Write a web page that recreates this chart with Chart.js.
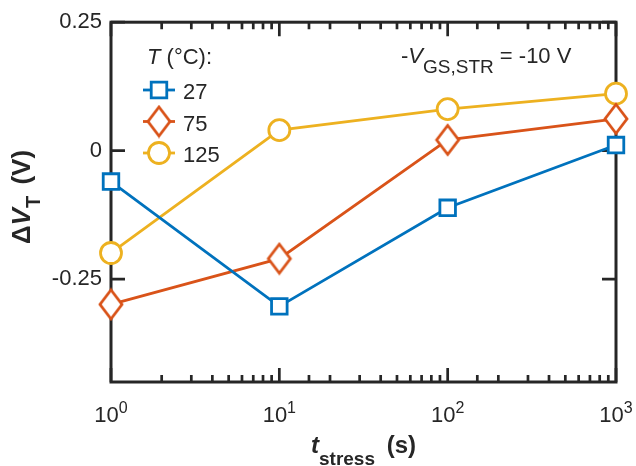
<!DOCTYPE html>
<html>
<head>
<meta charset="utf-8">
<script src="https://cdn.jsdelivr.net/npm/chart.js@4/dist/chart.umd.min.js"></script>
<style>
html, body { margin: 0; padding: 0; background: #fff; }
#wrap { width: 636px; height: 466px; }
</style>
</head>
<body>
<div id="wrap"><canvas id="chart" width="636" height="466"></canvas></div>
<script>
// Values
const stressTimes = [1, 10, 100, 1000];
const temperatures = ['27', '75', '125'];
const shift27 = [-0.060, -0.303, -0.111, 0.011];
const shift75 = [-0.299, -0.210, 0.021, 0.062];
const shift125 = [-0.199, 0.040, 0.081, 0.111];
const yTickValues = [-0.25, 0, 0.25];
const yTickLabels = ['-0.25', '0', '0.25'];
const xTickExponents = [0, 1, 2, 3];

const FONT = '"Liberation Sans", Arial, Helvetica, sans-serif';
const INK = '#262626';
const colors = ['#0072BD', '#D95319', '#EDB120'];

// MATLAB style diamond is taller than wide, so build it as an image
function makeDiamond(color) {
    const c = document.createElement('canvas');
    c.width = 28;
    c.height = 34;
    const g = c.getContext('2d');
    g.beginPath();
    g.moveTo(14, 2.5);
    g.lineTo(25, 17);
    g.lineTo(14, 31.5);
    g.lineTo(3, 17);
    g.closePath();
    g.fillStyle = '#fff';
    g.fill();
    g.lineWidth = 2.8;
    g.strokeStyle = color;
    g.stroke();
    return c;
}

const markerStyles = ['rect', makeDiamond(colors[1]), 'circle'];
const markerRadius = [11, 12, 10.5];

function isDecade(v) {
    const l = Math.log10(v);
    return Math.abs(l - Math.round(l)) < 1e-9;
}

// draw a row of text pieces (for italics, sub- and superscripts)
function drawRuns(ctx, runs, x, y, align) {
    let total = 0;
    runs.forEach(r => {
        ctx.font = r.font;
        r.w = ctx.measureText(r.text).width;
        total += r.w + (r.gap || 0);
    });
    let cx = align === 'center' ? x - total / 2 : x;
    runs.forEach(r => {
        ctx.font = r.font;
        ctx.fillText(r.text, cx, y + (r.dy || 0));
        cx += r.w + (r.gap || 0);
    });
}

const framePlugin = {
    id: 'frame',
    beforeDatasetsDraw(chart) {
        const { ctx, chartArea: a, scales: { x, y } } = chart;
        ctx.save();
        ctx.strokeStyle = INK;
        ctx.lineWidth = 3;
        ctx.strokeRect(a.left, a.top, a.right - a.left, a.bottom - a.top);

        // inward tick marks, mirrored on the opposite side
        ctx.lineWidth = 2.7;
        ctx.beginPath();
        x.ticks.forEach(t => {
            const px = x.getPixelForValue(t.value);
            const len = isDecade(t.value) ? 14 : 7;
            ctx.moveTo(px, a.bottom);
            ctx.lineTo(px, a.bottom - len);
            ctx.moveTo(px, a.top);
            ctx.lineTo(px, a.top + len);
        });
        y.ticks.forEach(t => {
            const py = y.getPixelForValue(t.value);
            ctx.moveTo(a.left, py);
            ctx.lineTo(a.left + 14, py);
            ctx.moveTo(a.right, py);
            ctx.lineTo(a.right - 14, py);
        });
        ctx.stroke();
        ctx.restore();
    },
    afterDraw(chart) {
        const { ctx, chartArea: a, scales: { x } } = chart;
        ctx.save();
        ctx.fillStyle = INK;
        ctx.textBaseline = 'alphabetic';

        // x tick labels 10^n
        xTickExponents.forEach(e => {
            const px = x.getPixelForValue(Math.pow(10, e));
            drawRuns(ctx, [
                { text: '10', font: '22px ' + FONT },
                { text: String(e), font: '16px ' + FONT, dy: -9 }
            ], px, 422, 'center');
        });

        // x axis title
        drawRuns(ctx, [
            { text: 't', font: 'italic bold 24px ' + FONT },
            { text: 'stress', font: 'bold 19px ' + FONT, dy: 12, gap: 5 },
            { text: ' (s)', font: 'bold 24px ' + FONT }
        ], (a.left + a.right) / 2, 453, 'center');

        // y axis title
        ctx.save();
        ctx.translate(30, 197);
        ctx.rotate(-Math.PI / 2);
        drawRuns(ctx, [
            { text: '\u0394', font: 'bold 26px ' + FONT },
            { text: 'V', font: 'italic bold 26px ' + FONT },
            { text: 'T', font: 'bold 20px ' + FONT, dy: 10, gap: 4 },
            { text: ' (V)', font: 'bold 26px ' + FONT }
        ], 0, 0, 'center');
        ctx.restore();

        // legend
        drawRuns(ctx, [
            { text: 'T', font: 'italic 22px ' + FONT },
            { text: ' (\u00B0C):', font: '22px ' + FONT }
        ], 147, 64, 'left');
        chart.data.datasets.forEach((ds, i) => {
            const ly = 90 + 31.5 * i;
            ctx.strokeStyle = ds.borderColor;
            ctx.lineWidth = ds.borderWidth;
            ctx.beginPath();
            ctx.moveTo(143, ly);
            ctx.lineTo(175, ly);
            ctx.stroke();
            ctx.fillStyle = '#fff';
            Chart.helpers.drawPoint(ctx, {
                pointStyle: ds.pointStyle,
                radius: ds.pointRadius,
                rotation: 0,
                borderWidth: ds.pointBorderWidth
            }, 159, ly);
            ctx.fillStyle = INK;
            ctx.font = '22px ' + FONT;
            ctx.fillText(temperatures[i], 183, ly + 9);
        });

        // stress condition note
        drawRuns(ctx, [
            { text: '-', font: '22px ' + FONT },
            { text: 'V', font: 'italic 22px ' + FONT },
            { text: 'GS,STR', font: '19px ' + FONT, dy: 10 },
            { text: ' = -10 V', font: '22px ' + FONT }
        ], 401, 63, 'left');
        ctx.restore();
    }
};

const seriesValues = [shift27, shift75, shift125];

const datasets = seriesValues.map((vals, i) => ({
    label: temperatures[i],
    data: stressTimes.map((t, j) => ({ x: t, y: vals[j] })),
    borderColor: colors[i],
    backgroundColor: '#fff',
    borderWidth: 2.8,
    pointStyle: markerStyles[i],
    pointRadius: markerRadius[i],
    pointBorderWidth: 2.8,
    pointBackgroundColor: '#fff',
    pointBorderColor: colors[i],
    tension: 0,
    clip: false
}));

new Chart(document.getElementById('chart'), {
    type: 'line',
    data: { datasets },
    options: {
        responsive: false,
        animation: false,
        events: [],
        layout: { padding: { top: 15, right: 20, left: 0, bottom: 0 } },
        plugins: {
            legend: { display: false },
            tooltip: { enabled: false }
        },
        scales: {
            x: {
                type: 'logarithmic',
                min: 1,
                max: 1000,
                grid: { display: false, drawTicks: false },
                border: { display: false },
                ticks: { display: false, autoSkip: false },
                afterFit(scale) { scale.height = 84; }
            },
            y: {
                type: 'linear',
                min: -0.45,
                max: 0.25,
                grid: { display: false, drawTicks: false },
                border: { display: false },
                afterBuildTicks(scale) {
                    scale.ticks = yTickValues.map(v => ({ value: v }));
                },
                ticks: {
                    padding: 9,
                    color: INK,
                    font: { family: FONT, size: 22 },
                    callback: function(value) {
                        const idx = yTickValues.indexOf(value);
                        return idx >= 0 ? yTickLabels[idx] : '';
                    }
                },
                afterFit(scale) { scale.width = 111; }
            }
        }
    },
    plugins: [framePlugin]
});
</script>
</body>
</html>
